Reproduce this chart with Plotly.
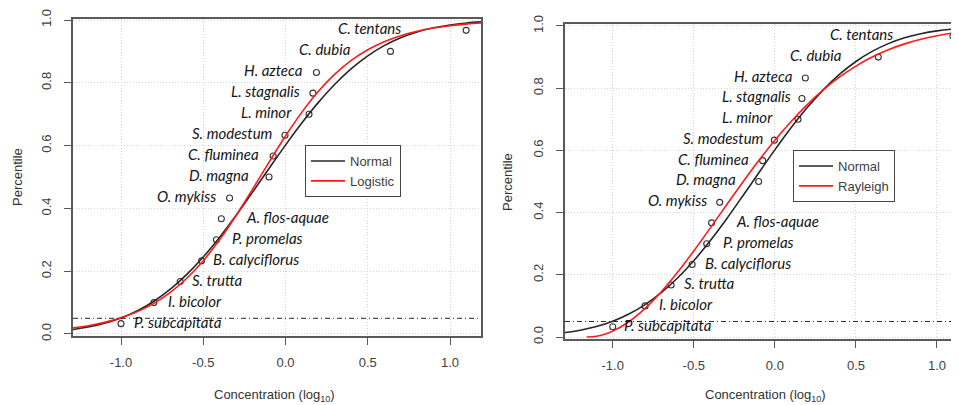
import plotly.graph_objects as go

# ---------------- data ----------------
species = ["P. subcapitata", "I. bicolor", "S. trutta", "B. calyciflorus", "P. promelas",
           "A. flos-aquae", "O. mykiss", "D. magna", "C. fluminea", "S. modestum",
           "L. minor", "L. stagnalis", "H. azteca", "C. dubia", "C. tentans"]
conc_log10 = [-1.00, -0.80, -0.64, -0.51, -0.42, -0.39, -0.34, -0.10, -0.075, -0.003,
              0.143, 0.167, 0.188, 0.638, 1.098]
percentile = [0.033, 0.100, 0.167, 0.233, 0.300, 0.367, 0.433, 0.500, 0.567, 0.633,
              0.700, 0.767, 0.833, 0.900, 0.967]
label_side = ["right"] * 6 + ["left"] * 9          # label placed to the right / left of point
label_x_left_panel = [-0.934, -0.725, -0.578, -0.450, -0.340, -0.253, -0.412, -0.209,
                      -0.148, -0.063, 0.049, 0.1015, 0.1155, 0.409, 0.717]
label_x_right_panel = [-0.940, -0.726, -0.575, -0.446, -0.335, -0.253, -0.405, -0.226,
                       -0.144, -0.055, 0.004, 0.113, 0.123, 0.425, 0.740]

# fitted curves
curve_x = [-1.3, -1.2, -1.1, -1.0, -0.9, -0.8, -0.7, -0.6, -0.5, -0.4, -0.3, -0.2, -0.1,
           0.0, 0.1, 0.2, 0.3, 0.4, 0.5, 0.6, 0.7, 0.8, 0.9, 1.0, 1.1, 1.2]
normal_p = [0.0138, 0.0220, 0.0339, 0.0509, 0.0740, 0.1043, 0.1427, 0.1898, 0.2453, 0.3085,
            0.3780, 0.4518, 0.5272, 0.6016, 0.6726, 0.7377, 0.7955, 0.8450, 0.8858, 0.9183,
            0.9433, 0.9619, 0.9751, 0.9843, 0.9904, 0.9943]
logistic_p = [0.0189, 0.0265, 0.0370, 0.0515, 0.0712, 0.0976, 0.1325, 0.1774, 0.2333, 0.3005,
              0.3775, 0.4613, 0.5473, 0.6305, 0.7067, 0.7728, 0.8276, 0.8715, 0.9054, 0.9311,
              0.9502, 0.9642, 0.9744, 0.9817, 0.9870, 0.9907]
rayleigh_x = [-1.16, -1.1, -1.05, -1.0, -0.9, -0.8, -0.7, -0.6, -0.5, -0.4, -0.3, -0.2, -0.1,
              0.0, 0.1, 0.2, 0.3, 0.4, 0.5, 0.6, 0.7, 0.8, 0.9, 1.0, 1.1, 1.2]
rayleigh_p = [0.0, 0.0027, 0.0090, 0.0189, 0.0490, 0.0919, 0.1456, 0.2080, 0.2767, 0.3492,
              0.4231, 0.4960, 0.5664, 0.6323, 0.6929, 0.7473, 0.7951, 0.8363, 0.8711, 0.9001,
              0.9237, 0.9425, 0.9574, 0.9689, 0.9776, 0.9841]
hc5_level = 0.05

x_tickvals = [-1.0, -0.5, 0.0, 0.5, 1.0]
x_ticktext = ["-1.0", "-0.5", "0.0", "0.5", "1.0"]
y_tickvals = [0.0, 0.2, 0.4, 0.6, 0.8, 1.0]
y_ticktext = ["0.0", "0.2", "0.4", "0.6", "0.8", "1.0"]

# ---------------- style ----------------
AX_COL = "#5a5a5a"
TXT_COL = "#404040"
BLACK = "#262626"
RED = "#ff1a1a"
TICK_FONT = dict(family="Liberation Sans, Arial, sans-serif", size=13, color=TXT_COL)
LAB_FONT = dict(family="Lato, sans-serif", size=15, color="#141414", style="italic")

fig = go.Figure()

panels = [
    dict(xa="x", ya="y", legend="legend", second=("Logistic", curve_x, logistic_p),
         labx=label_x_left_panel),
    dict(xa="x2", ya="y2", legend="legend2", second=("Rayleigh", rayleigh_x, rayleigh_p),
         labx=label_x_right_panel),
]

for p in panels:
    fig.add_trace(go.Scatter(x=conc_log10, y=percentile, mode="markers", xaxis=p["xa"], yaxis=p["ya"],
                             marker=dict(symbol="circle-open", size=6, color="#333333",
                                         line=dict(width=1.1, color="#333333")),
                             showlegend=False, hoverinfo="skip"))
    fig.add_trace(go.Scatter(x=curve_x, y=normal_p, mode="lines", name="Normal",
                             xaxis=p["xa"], yaxis=p["ya"], legend=p["legend"],
                             line=dict(color=BLACK, width=1.6, shape="spline")))
    nm, sx, sy = p["second"]
    fig.add_trace(go.Scatter(x=sx, y=sy, mode="lines", name=nm,
                             xaxis=p["xa"], yaxis=p["ya"], legend=p["legend"],
                             line=dict(color=RED, width=1.6, shape="spline")))
    # 5th percentile reference line
    fig.add_shape(type="line", xref=p["xa"] + " domain", yref=p["ya"], x0=0, x1=1,
                  y0=hc5_level, y1=hc5_level,
                  line=dict(color="#222222", width=1, dash="5px,3px,1px,3px"))
    for name, xv, yv, side, lx in zip(species, conc_log10, percentile, label_side, p["labx"]):
        fig.add_annotation(x=lx, y=yv, xref=p["xa"], yref=p["ya"], text=name, showarrow=False,
                           xanchor="left" if side == "right" else "right", yanchor="middle",
                           yshift=2, font=LAB_FONT)

axis_common = dict(tickvals=x_tickvals, ticktext=x_ticktext, ticks="outside", ticklen=7,
                   tickcolor=AX_COL, tickwidth=1, showline=True, linecolor=AX_COL, linewidth=1.5,
                   showgrid=True, gridcolor="#d4d4d4", griddash="1px,2px", gridwidth=1,
                   zeroline=False, tickfont=TICK_FONT, ticklabelstandoff=7, automargin=False)
yaxis_common = dict(tickvals=y_tickvals, ticktext=y_ticktext, ticks="outside", ticklen=7,
                    tickcolor=AX_COL, tickwidth=1, showline=True, linecolor=AX_COL, linewidth=1.5,
                    showgrid=True, gridcolor="#d4d4d4", griddash="1px,2px", gridwidth=1,
                    zeroline=False, tickfont=TICK_FONT, tickangle=-90, ticklabelstandoff=8,
                    automargin=False)

LEG_FONT = dict(family="Liberation Sans, Arial, sans-serif", size=13, color=TXT_COL)
fig.update_layout(
    width=959, height=405,
    margin=dict(l=0, r=0, t=0, b=0, autoexpand=False),
    paper_bgcolor="white", plot_bgcolor="white",
    xaxis=dict(domain=[0.06778, 0.49322], range=[-1.2918, 1.1884], mirror=True, anchor="y",
               **axis_common),
    yaxis=dict(domain=[0.19012, 0.97407], range=[-0.0064, 1.0048], mirror=True, anchor="x",
               **yaxis_common),
    xaxis2=dict(domain=[0.58081, 0.99166], range=[-1.2942, 1.1357], mirror=True, anchor="y2",
                **axis_common),
    yaxis2=dict(domain=[0.18272, 0.95926], range=[-0.0064, 1.0048], mirror=False, anchor="x2",
                **yaxis_common),
    legend=dict(x=0.3097, y=0.6617, xanchor="left", yanchor="top", bgcolor="white",
                bordercolor="#444444", borderwidth=1, font=LEG_FONT, itemwidth=34),
    legend2=dict(x=0.8186, y=0.6494, xanchor="left", yanchor="top", bgcolor="white",
                 bordercolor="#444444", borderwidth=1, font=LEG_FONT, itemwidth=34),
)

TITLE_FONT = dict(family="Liberation Sans, Arial, sans-serif", size=13, color="#333333")
for xp in [0.2784, 0.7894]:
    fig.add_annotation(x=xp, y=0.0444, xref="paper", yref="paper", showarrow=False,
                       text="Concentration (log<sub>10</sub>)", xanchor="center", yanchor="middle",
                       font=TITLE_FONT)
for xp, yp in [(0.00938, 0.5827), (0.5214, 0.5704)]:
    fig.add_annotation(x=xp, y=yp, xref="paper", yref="paper", showarrow=False, text="Percentile",
                       textangle=-90, xanchor="center", yanchor="middle", font=TITLE_FONT)

fig.write_html("out.html")
